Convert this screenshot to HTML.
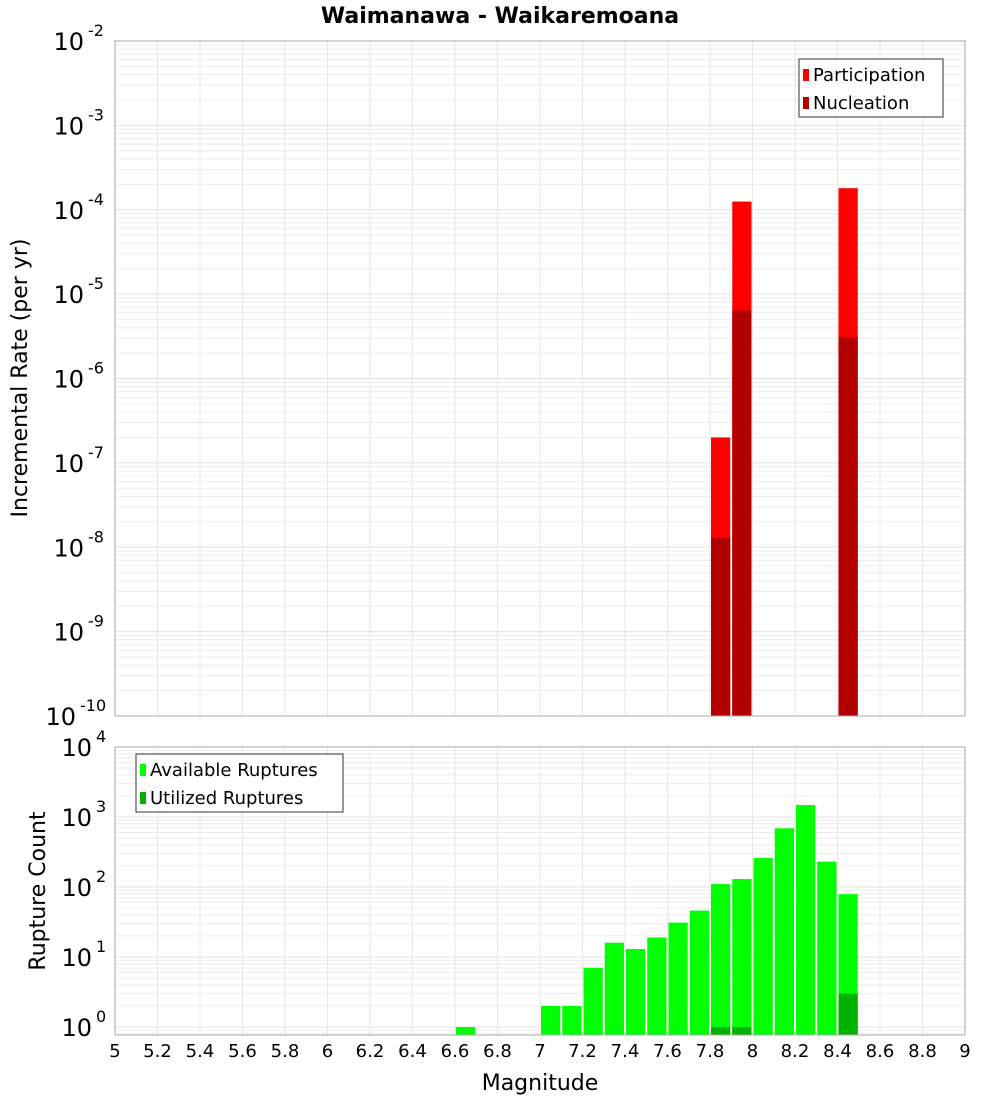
<!DOCTYPE html>
<html><head><meta charset="utf-8"><style>
body{margin:0;background:#fff;}
svg{display:block;font-family:"DejaVu Sans","Liberation Sans",sans-serif;}
</style></head><body>
<svg id="c" width="1000" height="1100" xmlns="http://www.w3.org/2000/svg">
<text x="500" y="23" text-anchor="middle" font-size="22" font-weight="bold">Waimanawa - Waikaremoana</text>
<text transform="translate(27,378) rotate(-90)" text-anchor="middle" font-size="22">Incremental Rate (per yr)</text>
<text transform="translate(45,891) rotate(-90)" text-anchor="middle" font-size="22">Rupture Count</text>
<text x="540" y="1090" text-anchor="middle" font-size="22">Magnitude</text>
<g id="g"></g>
</svg>
<script>
const xTicks=[5,5.2,5.4,5.6,5.8,6,6.2,6.4,6.6,6.8,7,7.2,7.4,7.6,7.8,8,8.2,8.4,8.6,8.8,9];
const rateMags=[7.85,7.95,8.45];
const participation=[2e-7,1.25e-4,1.8e-4];
const nucleation=[1.3e-8,6.4e-6,3.1e-6];
const countMags=[6.65,7.05,7.15,7.25,7.35,7.45,7.55,7.65,7.75,7.85,7.95,8.05,8.15,8.25,8.35,8.45];
const available=[1,2,2,7,16,13,19,31,46,110,130,260,690,1480,230,79];
const utilizedMags=[7.85,7.95,8.45];
const utilized=[1,1,3];
const topDecades=[-10,-9,-8,-7,-6,-5,-4,-3,-2];
const botDecades=[0,1,2,3,4];

const NS="http://www.w3.org/2000/svg";
const g=document.getElementById('g');
function el(t,a,p){const e=document.createElementNS(NS,t);for(const k in a)e.setAttribute(k,a[k]);(p||g).appendChild(e);return e;}
const X0=115,X1=965;
const xs=m=>X0+(m-5)/4*(X1-X0);
const yTop=v=>41+(-2-Math.log10(v))*84.375;
const yBot=v=>747+(4-Math.log10(v))*70;
const TOP={y0:41,y1:716},BOT={y0:747,y1:1035};

function grid(P,decades,ys){
  for(let i=0;i<decades.length-1;i++)for(let k=1;k<10;k++){
    const y=ys(k*Math.pow(10,decades[i]));
    if(y>=P.y0&&y<=P.y1){const l=el('line',{x1:X0,x2:X1,y1:y,y2:y,stroke:k==1?'#e0e0e0':'#ececec','stroke-width':1});
    }
  }
  xTicks.forEach(t=>{const x=xs(t);const l=el('line',{x1:x,x2:x,y1:P.y0,y2:P.y1,stroke:'#e6e6e6'});
  });
}
function frame(P,name){const r=el('rect',{x:X0,y:P.y0,width:X1-X0,height:P.y1-P.y0,fill:'none',stroke:'#aaa'});
}
function ylabels(decades,ys,name){
  decades.forEach(d=>{const y=ys(Math.pow(10,d));const t=el('text',{x:105,y:y+9,'text-anchor':'end','font-size':24});
  
  t.textContent='10';const s=el('tspan',{dy:-14,'font-size':16},t);s.textContent=String(d);
  t.setAttribute('x',String(100-8*String(d).length));t.setAttribute('text-anchor','end');
  s.setAttribute('x',String(104-8*String(d).length));s.setAttribute('text-anchor','start');});
}
function bar(m,v,ys,P,fill,name){const x=xs(m-0.05)+1,w=xs(m+0.05)-xs(m-0.05)-2;const y=Math.max(ys(v),P.y0);
const r=el('rect',{x:x,y:y,width:w,height:P.y1-y,fill:fill});}

grid(TOP,topDecades,yTop);grid(BOT,[-1].concat(botDecades),yBot);
rateMags.forEach((m,i)=>bar(m,participation[i],yTop,TOP,'#ff0000','participation-bar'));
rateMags.forEach((m,i)=>bar(m,nucleation[i],yTop,TOP,'#b20000','nucleation-bar'));
countMags.forEach((m,i)=>bar(m,available[i],yBot,BOT,'#00ff00','available-bar'));
utilizedMags.forEach((m,i)=>bar(m,utilized[i],yBot,BOT,'#00b200','utilized-bar'));
frame(TOP,'top-plot-frame');frame(BOT,'bottom-plot-frame');
ylabels(topDecades,yTop,'y-tick-label-top');ylabels(botDecades,yBot,'y-tick-label-bottom');
xTicks.forEach(t=>{const tx=el('text',{x:xs(t),y:1057,'text-anchor':'middle','font-size':18});
tx.textContent=String(t);});

function legend(x,y,w,items,name){const lg=el('g',{});
el('rect',{x:x,y:y,width:w,height:58,fill:'#fff',stroke:'#333'},lg);
items.forEach((it,i)=>{const sw=el('rect',{x:x+4,y:y+10+i*28,width:6,height:12,fill:it[1]},lg);

const t=el('text',{x:x+14,y:y+22+i*28,'font-size':18},lg);t.textContent=it[0];});}
legend(799,59,144,[['Participation','#ff0000'],['Nucleation','#b20000']],'top-legend');
legend(136,754,207,[['Available Ruptures','#00ff00'],['Utilized Ruptures','#00b200']],'bottom-legend');
</script>
</body></html>
